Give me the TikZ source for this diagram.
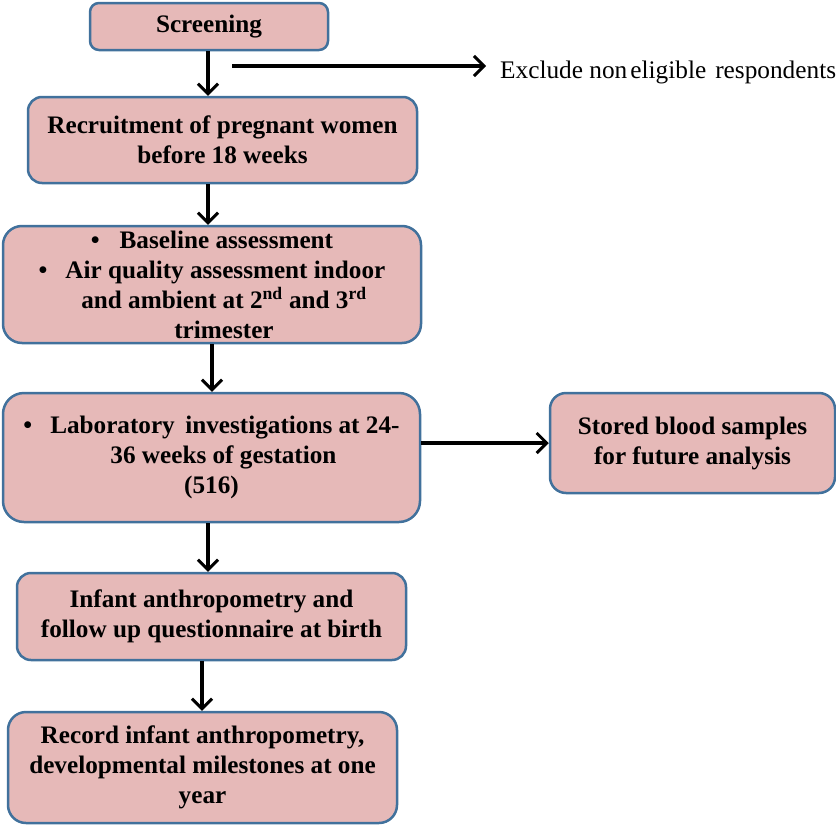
\documentclass[tikz,border=0pt]{standalone}
\usepackage{fontspec}
\setmainfont{Liberation Serif}
\usetikzlibrary{arrows.meta,calc}
\definecolor{boxfill}{HTML}{E6B9B8}
\definecolor{boxline}{HTML}{41719C}
\tikzset{
  flowbox/.style={draw=boxline, fill=boxfill, line width=2.5pt, inner sep=0pt,
    align=center, font=\fontsize{25.2}{30}\selectfont\bfseries, text=black},
  arr/.style={line width=3.2pt, -{Straight Barb[length=10pt,width=20pt,line width=3pt]}},
  plain/.style={inner sep=0pt, font=\fontsize{25.3}{30}\selectfont, text=black}
}
\begin{document}
\begin{tikzpicture}[x=1pt,y=-1pt]
\useasboundingbox (0,0) rectangle (836,825);
\node[flowbox, rounded corners=9pt, minimum width=238pt, minimum height=47pt] (screen) at (209,26.5) {Screening};
\node[flowbox, rounded corners=14pt, minimum width=389pt, minimum height=86pt] (rec) at (222.5,140) {Recruitment of pregnant women\\before 18 weeks};
\node[flowbox, rounded corners=19pt, minimum width=418pt, minimum height=117pt] (base) at (212,284.5)
  {\textbullet\hspace{20pt}Baseline assessment\\
   \textbullet\hspace{18pt}Air quality assessment indoor\\
   \hspace*{24pt}and ambient at 2\textsuperscript{nd} and 3\textsuperscript{rd}\\
   \hspace*{24pt}trimester};
\node[flowbox, rounded corners=21pt, minimum width=417pt, minimum height=129pt] (lab) at (211.5,457.5)
  {\textbullet\hspace{18pt}Laboratory\, investigations at 24-\\
   \hspace*{24pt}36 weeks of gestation\\
   (516)};
\node[flowbox, rounded corners=16pt, minimum width=285pt, minimum height=100pt] (stored) at (692.5,443) {Stored blood samples\\for future analysis};
\node[flowbox, rounded corners=14pt, minimum width=389pt, minimum height=87pt] (inf) at (211.5,616.5) {Infant anthropometry and\\follow up questionnaire at birth};
\node[flowbox, rounded corners=18pt, minimum width=389pt, minimum height=111pt] (record) at (202.5,767.5) {Record infant anthropometry,\\developmental milestones at one\\year};
\node[plain, anchor=west] (excl) at (500,72) {Exclude non\hspace{3pt}eligible\hspace{9pt}respondents};
\coordinate (ex0) at (232,66);
\coordinate (c208) at (208,0);
\coordinate (c212) at (212,0);
\coordinate (c202) at (202,0);
\draw[arr] (screen.south -| c208) -- (rec.north -| c208);
\draw[arr] (ex0) -- ($(ex0 -| excl.west)+(-14,0)$);
\draw[arr] (rec.south -| c208) -- (base.north -| c208);
\draw[arr] (base.south -| c212) -- (lab.north -| c212);
\draw[arr] (lab.east |- stored.west) -- (stored.west);
\draw[arr] (lab.south -| c208) -- (inf.north -| c208);
\draw[arr] (inf.south -| c202) -- (record.north -| c202);
\end{tikzpicture}
\end{document}
